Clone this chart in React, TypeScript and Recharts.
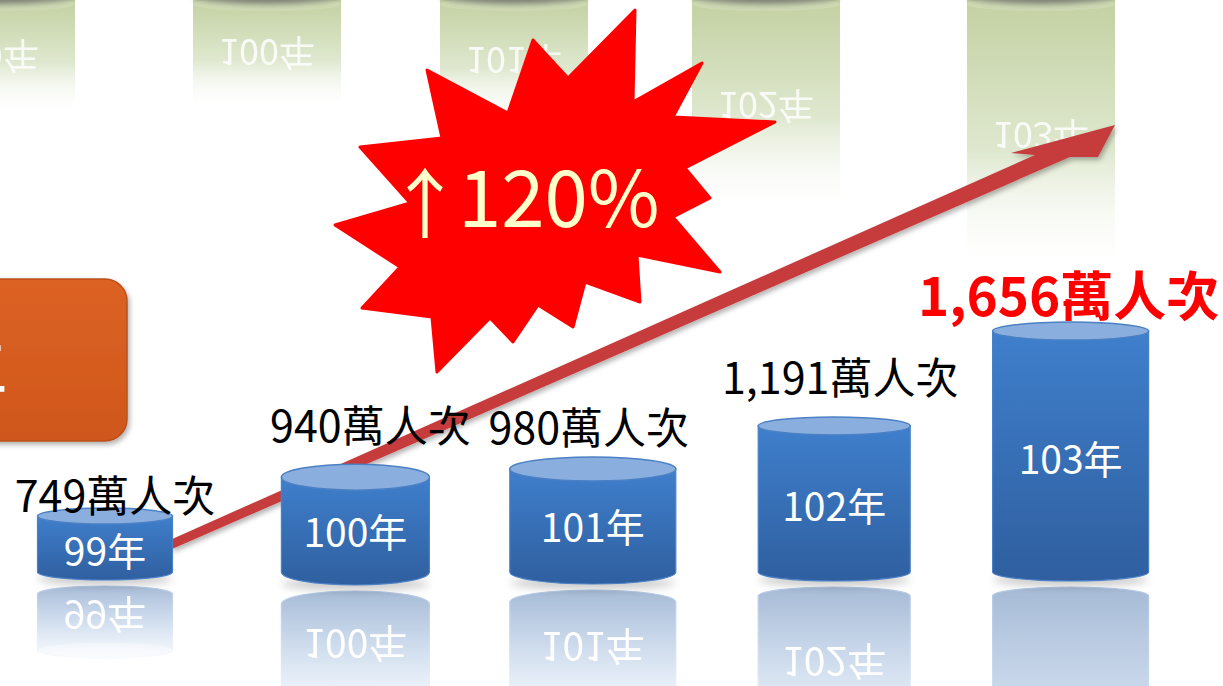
import { BarChart, Bar, XAxis, YAxis, LabelList } from 'recharts'

const years = ['99年', '100年', '101年', '102年', '103年']
const visitors = [749, 940, 980, 1191, 1656] // 萬人次
// faded mirror of the green row above the slide (length of the fade, px)
const ghostFade = [115, 110, 125, 215, 275]

const data = years.map((year, i) => ({ year, visitors: visitors[i], ghost: ghostFade[i] }))

// drawing tweaks per cylinder (the slide's shapes are not evenly sized)
const cylWidth = [135, 148, 166, 152, 156]
const cylShift = [1, 10, 6, 6, 1]
const cylRy = [8, 13, 12, 9, 9]
const ghostShift = [0, 6, -7, -15, 0]
// value label nudges, [dx, dy] from the top edge of the cylinder
const labelShift = [[10, -15], [15, -41], [-4, -32], [6, -42], [-2, -29]]

const FONT = "'Noto Sans CJK TC', 'Noto Sans', sans-serif"

const fmt = (v: number) => String(v).replace(/\B(?=(\d{3})+(?!\d))/g, ',')

function Cylinder(props: any) {
  const { x: bx, y, width: bw, height, index, payload } = props
  const w = cylWidth[index]
  const ry = cylRy[index]
  const cx = bx + bw / 2 + cylShift[index]
  const x = cx - w / 2
  const rx = w / 2
  const base = y + height
  const mid = (y + base) / 2 + 5
  const mirror = base + ry + 3
  const gid = `cyl-${index}`
  const body = `M${x},${y} L${x},${base} A${rx},${ry} 0 0 0 ${x + w},${base} L${x + w},${y} Z`

  const piece = (
    <>
      <path d={body} fill={`url(#${gid}-body)`} stroke="#4a80c6" strokeWidth={1.2} />
      <ellipse cx={cx} cy={y} rx={rx} ry={ry} fill="#8aafdf" stroke="#4b80c4" strokeWidth={1.5} />
      <text x={cx} y={mid} textAnchor="middle" dominantBaseline="central" fontSize={39} fill="#fff" fontFamily={FONT}>
        {payload.year}
      </text>
    </>
  )

  return (
    <g>
      <defs>
        <linearGradient id={`${gid}-body`} x1="0" y1="0" x2="0" y2="1">
          <stop offset="0" stopColor="#3f7fcc" />
          <stop offset="1" stopColor="#2f5f9f" />
        </linearGradient>
        <linearGradient id={`${gid}-fade`} x1="0" y1="0" x2="0" y2="1">
          <stop offset="0" stopColor="#fff" stopOpacity={0.05} />
          <stop offset="1" stopColor="#fff" stopOpacity={1} />
        </linearGradient>
        <filter id={`${gid}-blur`} x="-20%" y="-100%" width="140%" height="300%">
          <feGaussianBlur stdDeviation="4" />
        </filter>
      </defs>
      <g opacity={0.45} transform={`translate(0 ${2 * mirror}) scale(1 -1)`}>{piece}</g>
      <rect x={x - 3} y={mirror} width={w + 6} height={height + 2 * ry + 10} fill={`url(#${gid}-fade)`} />
      <ellipse cx={cx} cy={base + ry - 1} rx={rx} ry={6} fill="#000" opacity={0.22} filter={`url(#${gid}-blur)`} />
      {piece}
    </g>
  )
}

function GhostReflection(props: any) {
  const { x: bx, y, width, height, index, payload } = props
  const x = bx + ghostShift[index]
  const top = Math.min(y, y + height)
  const h = Math.abs(height)
  const cx = x + width / 2
  const gid = `ghost-${index}`
  return (
    <g>
      <defs>
        <linearGradient id={gid} x1="0" y1="0" x2="0" y2="1">
          <stop offset="0" stopColor="#c3d1a2" />
          <stop offset="0.55" stopColor="#dfe8cf" />
          <stop offset="1" stopColor="#fff" stopOpacity={0} />
        </linearGradient>
        <filter id={`${gid}-blur`} x="-20%" y="-100%" width="140%" height="300%">
          <feGaussianBlur stdDeviation="3" />
        </filter>
      </defs>
      <rect x={x} y={top} width={width} height={h} fill={`url(#${gid})`} />
      <ellipse cx={cx} cy={top + 4} rx={width / 2} ry={7} fill="#cfdab4" />
      <ellipse cx={cx} cy={top - 5} rx={width / 2} ry={9} fill="#555" opacity={0.7} filter={`url(#${gid}-blur)`} />
      <text
        transform={`translate(${cx} ${top + h * 0.5}) scale(1 -1)`}
        textAnchor="middle"
        dominantBaseline="central"
        fontSize={36}
        fill="#fff"
        opacity={0.85}
        fontFamily={FONT}
      >
        {payload.year}
      </text>
    </g>
  )
}

function ValueLabel(props: any) {
  const vb = props.viewBox ?? props
  const { x, y, width } = vb
  const { value, index } = props
  const [dx, dy] = labelShift[index]
  const last = index === visitors.length - 1
  return (
    <text
      x={x + width / 2 + cylShift[index] + dx}
      y={y - cylRy[index] + dy}
      textAnchor="middle"
      dominantBaseline="central"
      fontSize={last ? 53 : 43}
      fontWeight={last ? 700 : 400}
      fill={last ? '#ff0000' : '#000'}
      fontFamily={FONT}
    >
      {fmt(value)}萬人次
    </text>
  )
}

const burst = [
  [635, 10], [633, 102], [702, 63], [673, 117], [775, 122], [685, 168], [710, 198], [673, 217],
  [720, 272], [637, 255], [640, 302], [585, 282], [573, 327], [538, 305], [513, 342], [490, 318],
  [437, 372], [432, 317], [362, 308], [400, 267], [335, 225], [410, 203], [360, 147], [442, 138],
  [427, 70], [508, 113], [533, 40], [568, 78],
]

function Decorations() {
  return (
    <svg width={1223} height={686} style={{ position: 'absolute', left: 0, top: 0 }}>
      <defs>
        <linearGradient id="boxFill" x1="0" y1="0" x2="0" y2="1">
          <stop offset="0" stopColor="#dc6224" />
          <stop offset="1" stopColor="#cf571b" />
        </linearGradient>
        <filter id="soft" x="-10%" y="-10%" width="130%" height="130%">
          <feDropShadow dx="2" dy="3" stdDeviation="2.5" floodColor="#000" floodOpacity="0.3" />
        </filter>
      </defs>
      <rect x={-40} y={279} width={167} height={162} rx={22} fill="url(#boxFill)" stroke="#bb5019" strokeWidth={1.5} filter="url(#soft)" />
      <text x={8} y={403} textAnchor="end" fontSize={80} fill="#fff" fontFamily={FONT}>年</text>

      <polygon
        points="170,540 1035,155 1011,153 1115,125 1098,157 1070,157 172,549"
        fill="#c63b3b"
        filter="url(#soft)"
      />

      <polygon
        points={burst.map((p) => p.join(',')).join(' ')}
        fill="#ff0000"
        stroke="#ff0000"
        strokeWidth={3}
        strokeLinejoin="round"
      />
      <text x={425} y={232} textAnchor="middle" fontSize={76} fill="#ffffcc" fontFamily={FONT}>↑</text>
      <text x={458} y={227} fontSize={78} fill="#ffffcc" fontFamily={FONT}>120%</text>
    </svg>
  )
}

export default function App() {
  return (
    <div style={{ position: 'absolute', left: 0, top: 0, width: 1223, height: 686, overflow: 'hidden', background: '#fff' }}>
      <div style={{ position: 'absolute', left: -129, top: 0 }}>
        <BarChart width={1300} height={686} data={data} margin={{ top: 0, right: 0, bottom: 0, left: 0 }}>
          <XAxis dataKey="year" hide />
          <YAxis hide reversed domain={[0, 686]} />
          <Bar dataKey="ghost" barSize={148} shape={<GhostReflection />} isAnimationActive={false} />
        </BarChart>
      </div>
      <Decorations />
      <div style={{ position: 'absolute', left: -17, top: 0 }}>
        <BarChart width={1240} height={686} data={data} margin={{ top: 0, right: 33, bottom: 114, left: 0 }}>
          <XAxis dataKey="year" hide />
          <YAxis hide domain={[475, 3279]} />
          <Bar dataKey="visitors" barSize={150} shape={<Cylinder />} isAnimationActive={false}>
            <LabelList dataKey="visitors" content={<ValueLabel />} />
          </Bar>
        </BarChart>
      </div>
    </div>
  )
}
